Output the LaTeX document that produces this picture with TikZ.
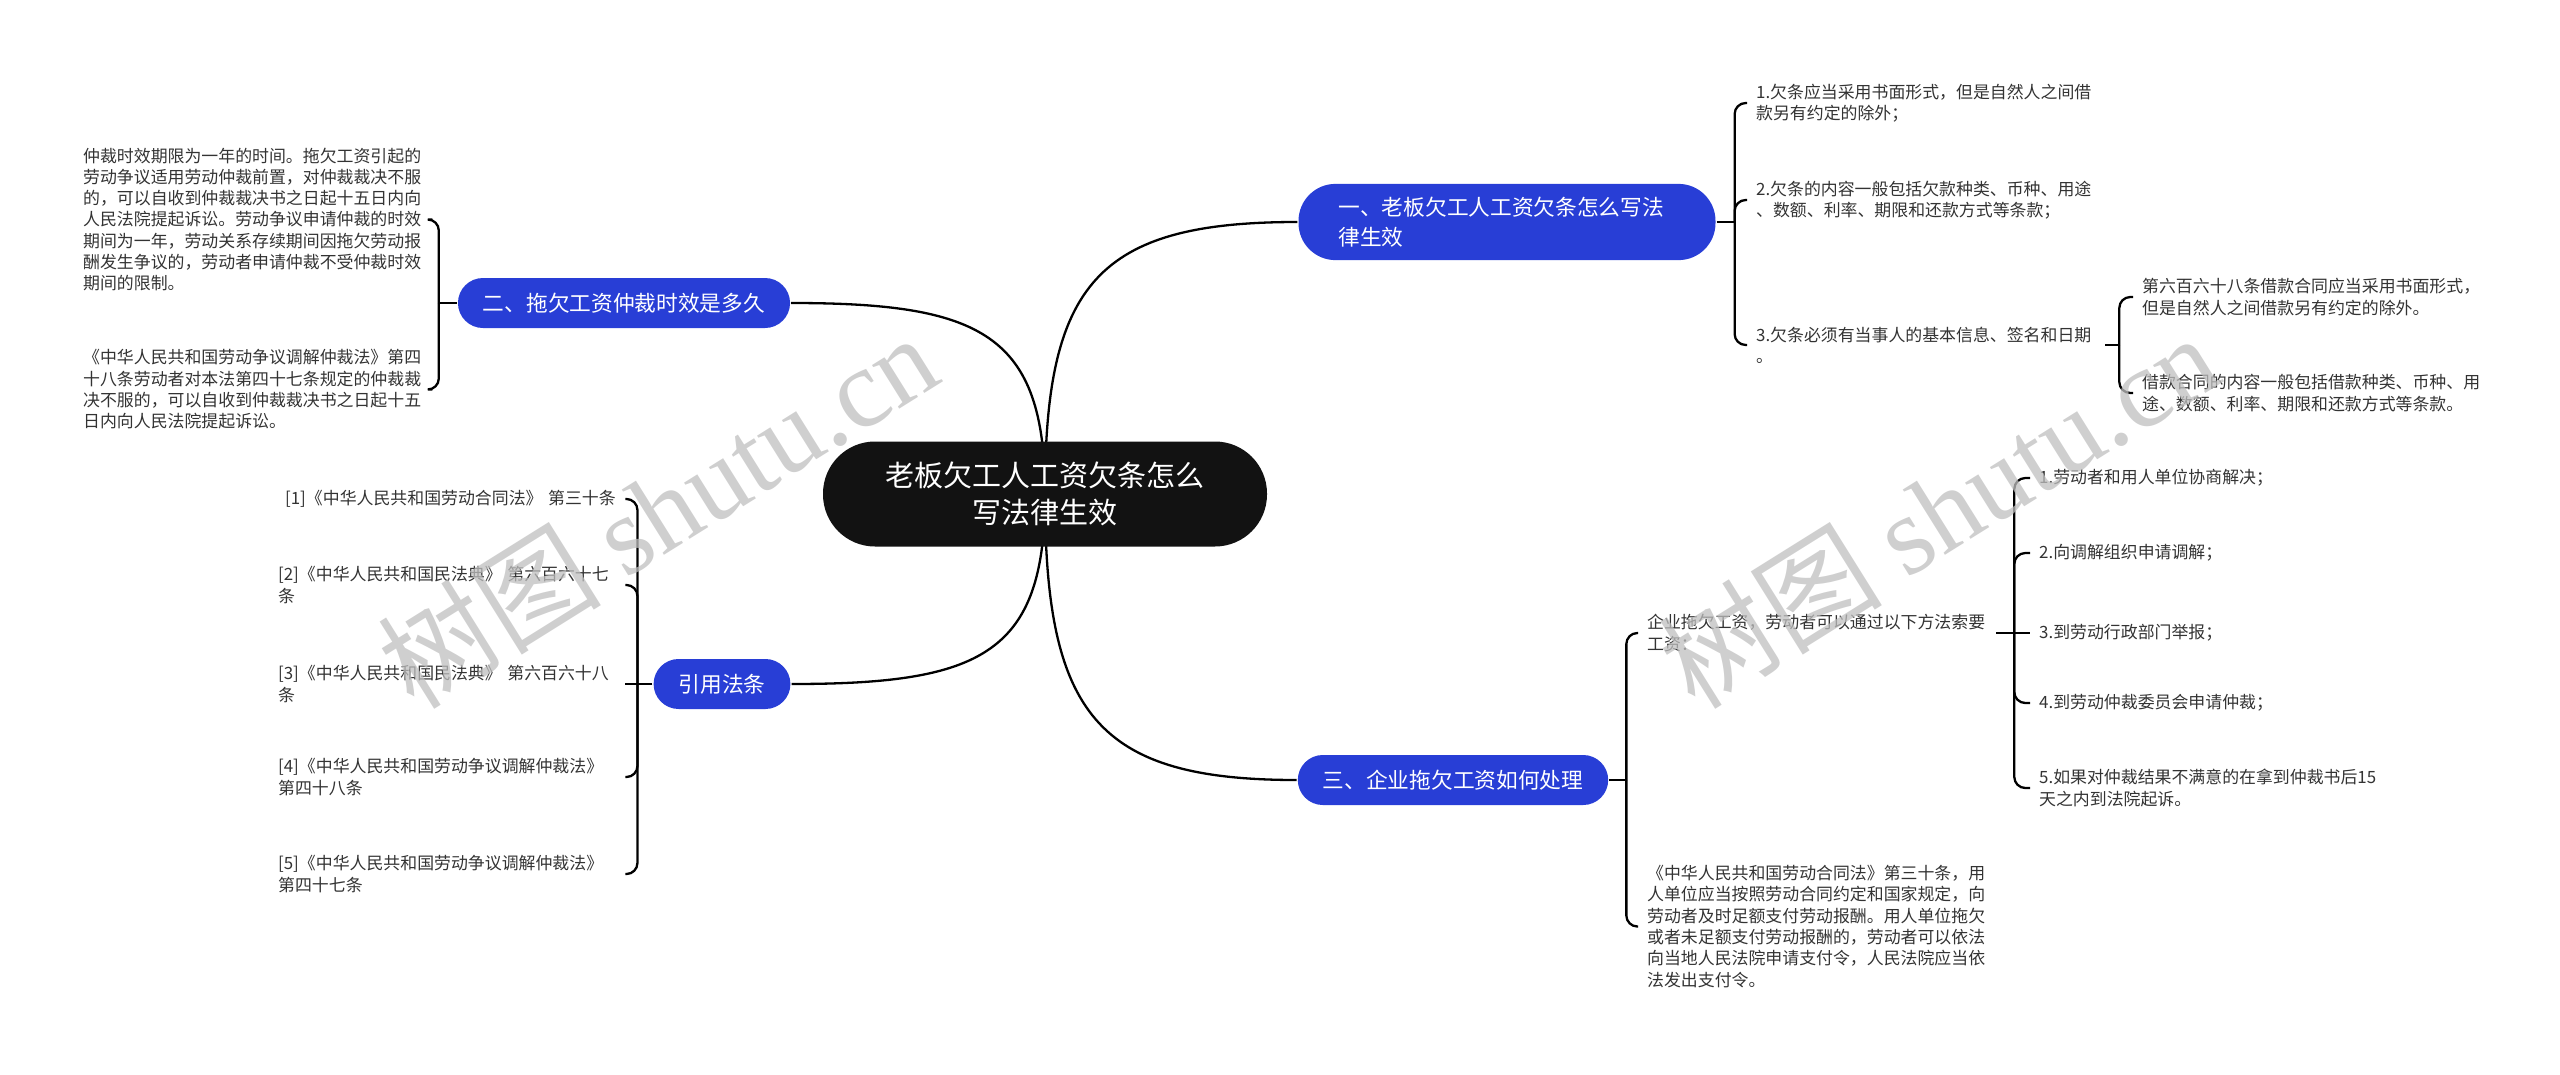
\documentclass[tikz,border=0pt]{standalone}
\usepackage{fontspec}
\setmainfont{Noto Sans CJK SC}
\newfontfamily\wmfont{Liberation Serif}
\usetikzlibrary{backgrounds}
\definecolor{branchblue}{RGB}{40,62,214}
\definecolor{leafgray}{RGB}{51,51,51}
\tikzset{
  leaf/.style={anchor=west,align=left,text width=#1,inner xsep=8pt,inner ysep=2pt,
    text=leafgray,font=\fontsize{16.9}{21.3}\selectfont},
  leaf/.default=340pt,
  branch/.style={fill=branchblue,text=white,rounded corners=25pt,minimum height=50pt,
    inner xsep=25pt,font=\fontsize{21.7}{30}\selectfont},
  trunk/.style={line width=2.3pt},
  wmark/.style={rotate=32,text=black!25,opacity=.75,font=\fontsize{112}{112}\selectfont},
}
\begin{document}
\begin{tikzpicture}[x=1pt,y=-1pt,line width=2.3pt]
 \useasboundingbox (0,0) rectangle (2560,1074);
 % centre and the four branches
 \node[fill=black!93,text=white,rounded corners=52pt,minimum width=444pt,minimum height=105pt,
   align=center,font=\fontsize{29}{37}\selectfont] (root) at (1045,494)
   {老板欠工人工资欠条怎么\\写法律生效};
 \node[branch,rounded corners=37pt,text width=337pt,inner xsep=40pt,inner ysep=13pt,align=left]
   (b1) at (1507,222) {一、老板欠工人工资欠条怎么写法\\律生效};
 \node[branch] (b2) at (624,303) {二、拖欠工资仲裁时效是多久};
 \node[branch] (b3) at (722,684) {引用法条};
 \node[branch] (b4) at (1453,780) {三、企业拖欠工资如何处理};
 \begin{scope}[on background layer={trunk}]
   \draw[trunk] (root.center) .. controls +(0,-210) and +(-200,0) .. (b1.west);
   \draw[trunk] (root.center) .. controls +(0,-160) and +(190,0) .. (b2.east);
   \draw[trunk] (root.center) .. controls +(0,160) and +(190,0) .. (b3.east);
   \draw[trunk] (root.center) .. controls +(0,220) and +(-200,0) .. (b4.west);
 \end{scope}
 % junctions of the brackets
 \coordinate (j1) at ([xshift=18pt]b1.east);
 \coordinate (j2) at ([xshift=-18pt]b2.west);
 \coordinate (j3) at ([xshift=-15pt]b3.west);
 \coordinate (j4) at ([xshift=17pt]b4.east);
 \draw (b1.east) -- (j1);
 \draw (b2.west) -- (j2);
 \draw (b3.west) -- (j3);
 \draw (b4.east) -- (j4);
 % branch one
 \foreach \name/\y/\r/\txt in {r1a/103/11/{1.欠条应当采用书面形式，但是自然人之间借\\款另有约定的除外；},
     r1b/200/11/{2.欠条的内容一般包括欠款种类、币种、用途\\、数额、利率、期限和还款方式等条款；},
     r1c/345/11/{3.欠条必须有当事人的基本信息、签名和日期\\。}}{%
   \node[leaf] (\name) at (1747,\y) {\txt};
   \draw[rounded corners=\r pt] (j1) |- (\name.west);
 }
 \coordinate (j5) at ([xshift=14pt]r1c.east);
 \draw (r1c.east) -- (j5);
 \foreach \name/\y/\r/\txt in {r1d/297/11/{第六百六十八条借款合同应当采用书面形式，\\但是自然人之间借款另有约定的除外。},
     r1e/393/11/{借款合同的内容一般包括借款种类、币种、用\\途、数额、利率、期限和还款方式等条款。}}{%
   \node[leaf] (\name) at (2133,\y) {\txt};
   \draw[rounded corners=\r pt] (j5) |- (\name.west);
 }
 % branch two
 \foreach \name/\y/\r/\txt in {l2a/219.5/11/{仲裁时效期限为一年的时间。拖欠工资引起的\\劳动争议适用劳动仲裁前置，对仲裁裁决不服\\的，可以自收到仲裁裁决书之日起十五日内向\\人民法院提起诉讼。劳动争议申请仲裁的时效\\期间为一年，劳动关系存续期间因拖欠劳动报\\酬发生争议的，劳动者申请仲裁不受仲裁时效\\期间的限制。},
     l2b/389.5/11/{《中华人民共和国劳动争议调解仲裁法》第四\\十八条劳动者对本法第四十七条规定的仲裁裁\\决不服的，可以自收到仲裁裁决书之日起十五\\日内向人民法院提起诉讼。}}{%
   \node[leaf] (\name) at (74,\y) {\txt};
   \draw[rounded corners=\r pt] (j2) |- (\name.east);
 }
 % cited articles
 \foreach \name/\y/\r/\txt in {l3a/499/11/{\hspace*{7pt}[1]《中华人民共和国劳动合同法》 第三十条},
     l3b/585/11/{[2]《中华人民共和国民法典》 第六百六十七\\条},
     l3c/684/0/{[3]《中华人民共和国民法典》 第六百六十八\\条},
     l3d/777/11/{[4]《中华人民共和国劳动争议调解仲裁法》\\第四十八条},
     l3e/874/11/{[5]《中华人民共和国劳动争议调解仲裁法》\\第四十七条}}{%
   \node[leaf=338pt] (\name) at (269,\y) {\txt};
   \draw[rounded corners=\r pt] (j3) |- (\name.east);
 }
 % branch three
 \foreach \name/\y/\r/\txt in {r4a/633/11/{企业拖欠工资，劳动者可以通过以下方法索要\\工资：},
     r4b/926.5/11/{《中华人民共和国劳动合同法》第三十条，用\\人单位应当按照劳动合同约定和国家规定，向\\劳动者及时足额支付劳动报酬。用人单位拖欠\\或者未足额支付劳动报酬的，劳动者可以依法\\向当地人民法院申请支付令，人民法院应当依\\法发出支付令。}}{%
   \node[leaf] (\name) at (1638,\y) {\txt};
   \draw[rounded corners=\r pt] (j4) |- (\name.west);
 }
 \coordinate (j6) at ([xshift=18pt]r4a.east);
 \draw (r4a.east) -- (j6);
 \foreach \name/\y/\r/\txt in {r4c/478/11/{1.劳动者和用人单位协商解决；},
     r4d/553/11/{2.向调解组织申请调解；},
     r4e/633/0/{3.到劳动行政部门举报；},
     r4f/703/11/{4.到劳动仲裁委员会申请仲裁；},
     r4g/788/11/{5.如果对仲裁结果不满意的在拿到仲裁书后15\\天之内到法院起诉。}}{%
   \node[leaf=350pt] (\name) at (2030,\y) {\txt};
   \draw[rounded corners=\r pt] (j6) |- (\name.west);
 }
 % watermarks
 \foreach \wx/\wname in {657/wmA,1938/wmB}{%
   \node[wmark] (\wname) at (\wx,510) {树图 {\wmfont shutu.cn}};
 }
\end{tikzpicture}
\end{document}
